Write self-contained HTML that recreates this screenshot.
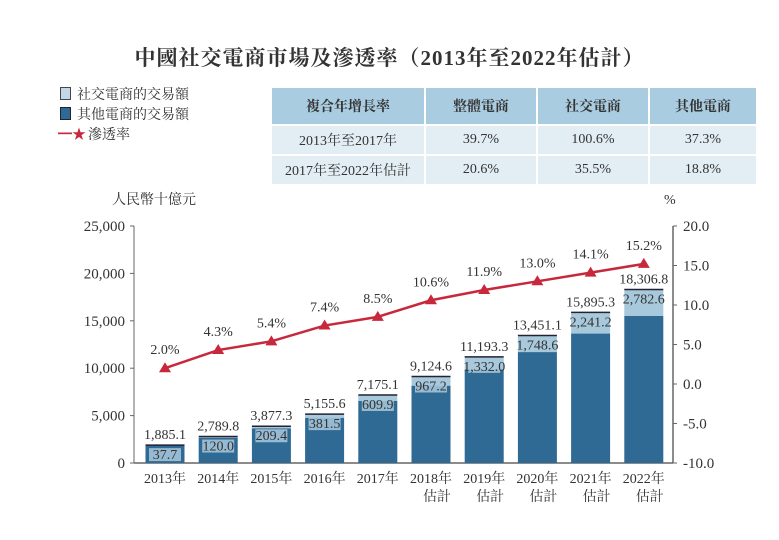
<!DOCTYPE html>
<html><head><meta charset="utf-8">
<style>
body{margin:0;background:#fff;}
#wrap{position:relative;width:779px;height:540px;overflow:hidden;font-family:"Liberation Serif","Noto Serif CJK SC",serif;color:#333;}
.t{position:absolute;white-space:nowrap;}
table{position:absolute;left:270px;top:86px;border-collapse:separate;border-spacing:2px;font-size:14px;}
td{text-align:center;color:#333;}
</style></head><body>
<div id="wrap">
<div class="t" style="left:0;width:779px;text-align:center;top:42px;font-size:21px;font-weight:bold;letter-spacing:1px;">中國社交電商市場及滲透率（2013年至2022年估計）</div>

<div style="position:absolute;left:58px;top:84px;font-size:14px;">
 <div style="height:20px;"><span style="display:inline-block;width:9px;height:11px;background:#c2d6e6;border:1px solid #445;vertical-align:-1px;margin:0 6px 0 2px"></span>社交電商的交易額</div>
 <div style="height:20px;"><span style="display:inline-block;width:9px;height:11px;background:#2f6a94;border:1px solid #223;vertical-align:-1px;margin:0 6px 0 2px"></span>其他電商的交易額</div>
 <div style="height:20px;"><span style="color:#c8283c;margin-right:2px">━★</span>滲透率</div>
</div>

<table>
<tr style="background:#a9cce0;height:36px;font-weight:bold;"><td style="width:150px">複合年增長率</td><td style="width:108px">整體電商</td><td style="width:108px">社交電商</td><td style="width:104px">其他電商</td></tr>
<tr style="background:#e3eef4;height:28px;"><td>2013年至2017年</td><td>39.7%</td><td>100.6%</td><td>37.3%</td></tr>
<tr style="background:#e3eef4;height:28px;"><td>2017年至2022年估計</td><td>20.6%</td><td>35.5%</td><td>18.8%</td></tr>
</table>

<svg id="chart" width="779" height="540" style="position:absolute;left:0;top:0"></svg>
</div>
<script>
const categories=["2013年","2014年","2015年","2016年","2017年","2018年","2019年","2020年","2021年","2022年"];
const subLabels=["","","","","","估計","估計","估計","估計","估計"];
const totals=[1885.1,2789.8,3877.3,5155.6,7175.1,9124.6,11193.3,13451.1,15895.3,18306.8];
const social=[37.7,120.0,209.4,381.5,609.9,967.2,1332.0,1748.6,2241.2,2782.6];
const penetration=[2.0,4.3,5.4,7.4,8.5,10.6,11.9,13.0,14.1,15.2];
const leftTicks=[0,5000,10000,15000,20000,25000];
const rightTicks=[-10,-5,0,5,10,15,20];

const NS="http://www.w3.org/2000/svg";
const svg=document.getElementById('chart');
const x0=134,x1=673,yb=463,yt=226;
const yL=v=>yb-(v/25000)*(yb-yt);
const yR=v=>yb-((v+10)/30)*(yb-yt);
const xc=i=>165+i*53.2;
const fmt=v=>v.toLocaleString('en-US',{minimumFractionDigits:1,maximumFractionDigits:1});
function el(tag,a,txt){const e=document.createElementNS(NS,tag);for(const k in a)e.setAttribute(k,a[k]);if(txt!==undefined)e.textContent=txt;svg.appendChild(e);return e;}
const F='"Liberation Serif","Noto Serif CJK SC",serif';

let e=el('text',{x:112,y:204,'font-size':14,'font-family':F,fill:'#333'},'人民幣十億元');

e=el('text',{x:664,y:204,'font-size':14,'font-family':F,fill:'#333'},'%');


e=el('line',{x1:x0,y1:yt,x2:x0,y2:yb,stroke:'#666','stroke-width':1});

e=el('line',{x1:x1,y1:yt,x2:x1,y2:yb,stroke:'#666','stroke-width':1.5});

e=el('line',{x1:x0,y1:yb,x2:x1,y2:yb,stroke:'#666','stroke-width':1.5});


leftTicks.forEach(v=>{
 const y=yL(v);
 let t=el('line',{x1:x0-4,y1:y,x2:x0,y2:y,stroke:'#666'});
 
 t=el('text',{x:x0-9,y:y+5,'text-anchor':'end','font-size':15,'font-family':F,fill:'#333'},v.toLocaleString('en-US'));
 
});
rightTicks.forEach(v=>{
 const y=yR(v);
 let t=el('line',{x1:x1,y1:y,x2:x1+4,y2:y,stroke:'#666'});
 
 t=el('text',{x:x1+10,y:y+5,'font-size':15,'font-family':F,fill:'#333'},v.toFixed(1));
 
});

categories.forEach((c,i)=>{
 const cx=xc(i),w=39;
 const yTop=yL(totals[i]),yMid=yL(totals[i]-social[i]);
 let r=el('rect',{x:cx-w/2,y:yMid,width:w,height:yb-yMid,fill:'#2f6a94'});
 
 r=el('rect',{x:cx-w/2,y:yTop,width:w,height:Math.max(yMid-yTop,0),fill:'#a8c8dc'});
 
 r=el('line',{x1:cx-w/2,y1:yTop,x2:cx+w/2,y2:yTop,stroke:'#223',"stroke-width":1.5});
 
 r=el('rect',{x:cx-16,y:yTop+3,width:32,height:13,fill:'#a8c8dc',opacity:0.85});
 
 let t=el('text',{x:cx,y:yTop-6,'text-anchor':'middle','font-size':14,'font-family':F,fill:'#333'},fmt(totals[i]));
 
 t=el('text',{x:cx,y:yTop+14,'text-anchor':'middle','font-size':14,'font-family':F,fill:'#333'},fmt(social[i]));
 
 t=el('text',{x:cx,y:483,'text-anchor':'middle','font-size':14,'font-family':F,fill:'#333'},c);
 
 if(subLabels[i]){t=el('text',{x:cx+6,y:501,'text-anchor':'middle','font-size':14,'font-family':F,fill:'#333'},subLabels[i]);
 }
});

const pts=penetration.map((v,i)=>xc(i)+','+yR(v)).join(' ');
let pl=el('polyline',{points:pts,fill:'none',stroke:'#c8283c','stroke-width':2.5});

penetration.forEach((v,i)=>{
 const x=xc(i),y=yR(v);
 let m=el('polygon',{points:`${x},${y-6} ${x-6},${y+4} ${x+6},${y+4}`,fill:'#c8283c'});
 
 m=el('text',{x:x,y:y-14,'text-anchor':'middle','font-size':14,'font-family':F,fill:'#333'},v.toFixed(1)+'%');
 
});
</script>
</body></html>
